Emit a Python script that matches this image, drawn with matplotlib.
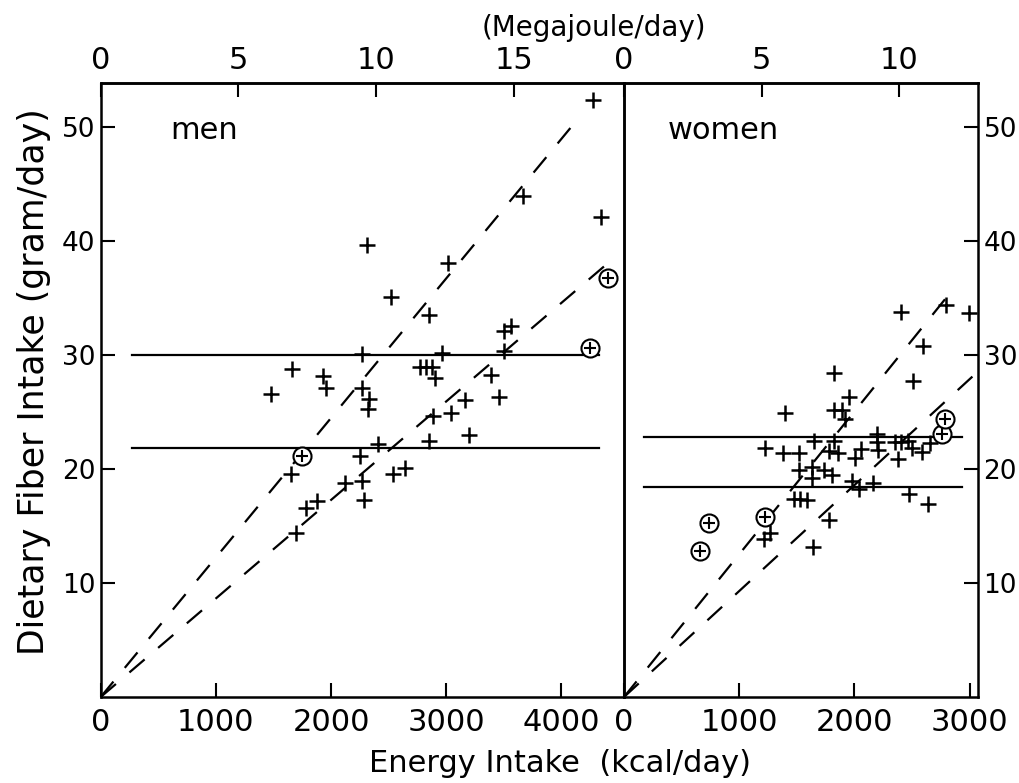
import matplotlib
matplotlib.use("Agg")
import matplotlib.pyplot as plt

KCAL_PER_MJ = 239.006

# men: energy intake (kcal/day) and dietary fiber (g/day)
men_kcal = [4275, 3663, 4343, 2309, 3012, 2517, 2852, 3559, 3504, 2265,
            2960, 3504, 2772, 2824, 2873, 2902, 3388, 3455, 2271, 2329,
            2323, 3162, 2882, 3041, 3200, 2852, 2404, 2251, 2540, 2641,
            2121, 2271, 2288, 1658, 1933, 1953, 1478, 1652, 1780, 1880,
            1695]
men_fiber = [52.4, 44.0, 42.1, 39.7, 38.1, 35.1, 33.5, 32.6, 32.1, 30.1,
             30.2, 30.4, 29.0, 29.0, 29.0, 28.0, 28.3, 26.3, 27.1, 26.2,
             25.3, 26.1, 24.7, 24.9, 23.0, 22.5, 22.2, 21.2, 19.6, 20.1,
             18.8, 19.0, 17.3, 28.8, 28.2, 27.1, 26.6, 19.6, 16.6, 17.2,
             14.4]
men_circ_kcal = [1745, 4247, 4401]
men_circ_fiber = [21.2, 30.6, 36.8]

# women
women_kcal = [1399, 1646, 1222, 1381, 1521, 1521, 1629, 1629, 1472, 1530,
              1586, 1265, 1216, 1637, 2402, 2792, 2996, 2597, 1826, 2507,
              1957, 1826, 1890, 1920, 1826, 2199, 2199, 2350, 2408, 2466,
              2496, 2655, 2583, 2380, 1783, 1861, 2059, 2001, 2205, 1740,
              1804, 1978, 2036, 2161, 2472, 2641, 1777]
women_fiber = [24.9, 22.5, 21.9, 21.4, 21.4, 19.9, 20.2, 19.2, 17.4, 17.4,
               17.3, 14.4, 13.9, 13.2, 33.8, 34.4, 33.7, 30.8, 28.4, 27.7,
               26.3, 25.2, 25.2, 24.4, 22.5, 23.1, 22.4, 22.4, 22.4, 22.5,
               21.9, 22.3, 21.5, 20.9, 21.6, 21.4, 21.8, 21.0, 21.7, 19.9,
               19.5, 19.0, 18.3, 18.8, 17.8, 16.9, 15.5]
women_circ_kcal = [663, 736, 1222, 2763, 2786]
women_circ_fiber = [12.8, 15.3, 15.8, 23.1, 24.4]

# horizontal lines (g/day) and dashed lines through origin (g per kcal)
men_levels = [30.0, 21.9]
men_level_span = [270, 4330]
men_slopes = [0.01225, 0.00865]
men_slope_ends = [4170, 4370]

women_levels = [22.8, 18.4]
women_level_span = [170, 2930]
women_slopes = [0.01253, 0.0093]
women_slope_ends = [2880, 3060]

narrow = ["Liberation Sans Narrow", "DejaVu Sans"]

fig = plt.figure(figsize=(10.19, 7.83), dpi=100)
y0 = 1 - 697 / 783
h = (697 - 83) / 783
ax1 = fig.add_axes([100.7 / 1019, y0, (624 - 100.7) / 1019, h])
ax2 = fig.add_axes([624 / 1019, y0, (978 - 624) / 1019, h])


def draw_panel(ax, kcal, fiber, ckcal, cfiber, levels, span, slopes, ends, xmax, label, lx):
    ax.set_xlim(0, xmax)
    ax.set_ylim(0, 53.9)
    ax.set_facecolor("none")
    for lev in levels:
        ax.plot(span, [lev, lev], color="black", lw=1.6)
    for s, e in zip(slopes, ends):
        ax.plot([0, e], [0, s * e], color="black", lw=1.6, dashes=(9, 8))
    ax.plot(kcal, fiber, "+", color="black", ms=11, mew=1.8)
    ax.plot(ckcal, cfiber, "o", mfc="white", mec="black", ms=13, mew=1.5)
    ax.plot(ckcal, cfiber, "+", color="black", ms=9, mew=1.5)
    ax.text(lx, 49.0, label, fontsize=22, family="DejaVu Sans")
    for sp in ax.spines.values():
        sp.set_linewidth(1.8)
    ax.tick_params(axis="x", direction="in", length=10, width=1.5, pad=8,
                   labelsize=22, top=False)
    ax.tick_params(axis="y", direction="in", length=10, width=1.5, pad=4,
                   labelsize=19)
    sec = ax.secondary_xaxis("top", functions=(lambda k: k / KCAL_PER_MJ,
                                               lambda m: m * KCAL_PER_MJ))
    sec.tick_params(direction="in", length=10, width=1.5, pad=6, labelsize=22)
    sec.spines["top"].set_linewidth(1.8)
    return sec


sec1 = draw_panel(ax1, men_kcal, men_fiber, men_circ_kcal, men_circ_fiber,
                  men_levels, men_level_span, men_slopes, men_slope_ends,
                  4543, "men", 600)
sec2 = draw_panel(ax2, women_kcal, women_fiber, women_circ_kcal, women_circ_fiber,
                  women_levels, women_level_span, women_slopes, women_slope_ends,
                  (978 - 624) / 0.1152, "women", 380)

ax1.set_xticks([0, 1000, 2000, 3000, 4000])
ax1.set_yticks([10, 20, 30, 40, 50])
ax1.tick_params(axis="y", left=True, right=False)
sec1.set_xticks([0, 5, 10, 15])

ax2.set_xticks([0, 1000, 2000, 3000])
ax2.set_yticks([10, 20, 30, 40, 50])
ax2.yaxis.tick_right()
ax2.tick_params(axis="y", left=False, right=True)
sec2.set_xticks([0, 5, 10])

for ax in (ax1, ax2, sec1, sec2):
    for t in ax.get_xticklabels():
        t.set_family(narrow)

fig.text(594 / 1019, 1 - 28 / 783, "(Megajoule/day)", fontsize=20,
         ha="center", va="center", family="DejaVu Sans")
fig.text(560 / 1019, 1 - 764 / 783, "Energy Intake  (kcal/day)", fontsize=22,
         ha="center", va="center", family="DejaVu Sans")
fig.text(34 / 1019, 1 - 382 / 783, "Dietary Fiber Intake (gram/day)", fontsize=25,
         ha="center", va="center", rotation=90, family="DejaVu Sans")

fig.savefig("out.png", dpi=100, facecolor="white")
